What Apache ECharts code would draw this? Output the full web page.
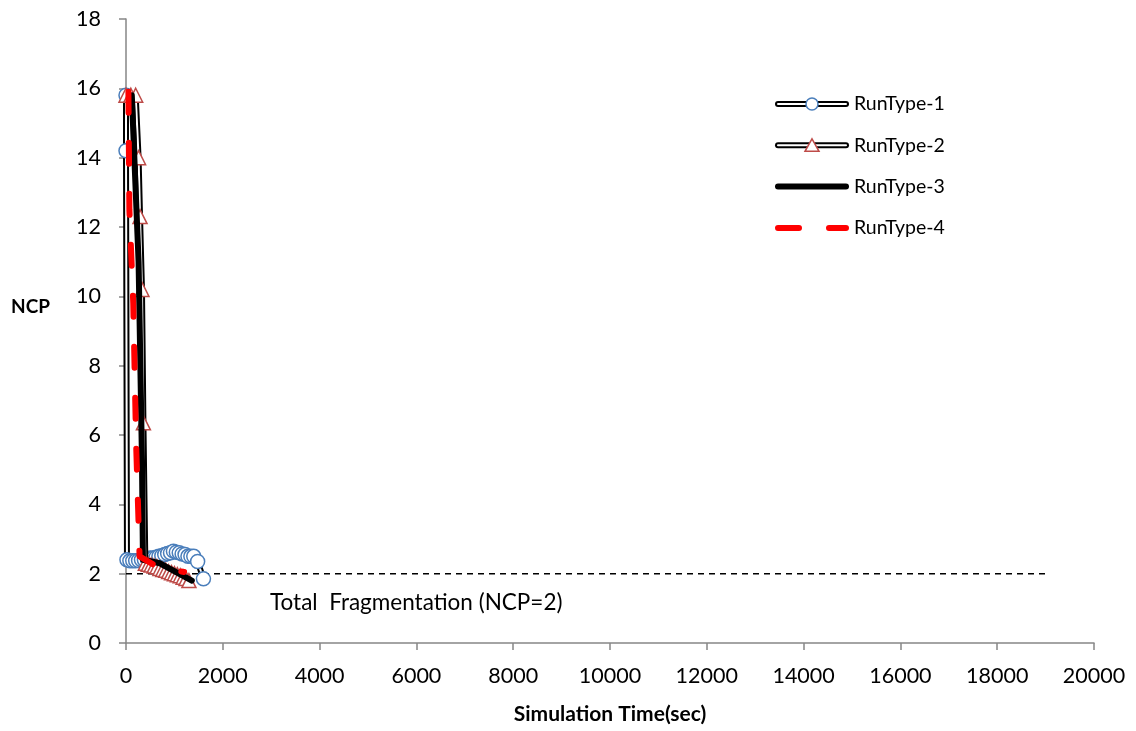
<!DOCTYPE html>
<html>
<head>
<meta charset="utf-8">
<style>
  html, body { margin: 0; padding: 0; background: #fff; }
  #chart { width: 1136px; height: 731px; }
</style>
<script src="https://cdn.jsdelivr.net/npm/echarts@6/dist/echarts.min.js"></script>
</head>
<body>
<div id="chart"></div>
<script>
// NCP over simulation time, four run types, [time (sec), NCP]
const runType1 = [[0,15.8],[0,14.2],[20,2.4],[80,2.37],[140,2.37],[200,2.37],[260,2.38],[320,2.4],[380,2.4],[440,2.42],[500,2.45],[560,2.45],[620,2.47],[680,2.5],[740,2.52],[800,2.55],[860,2.58],[920,2.6],[980,2.65],[1040,2.62],[1100,2.6],[1160,2.57],[1220,2.55],[1280,2.5],[1340,2.5],[1400,2.5],[1480,2.35],[1600,1.85]];
const runType2 = [[0,15.8],[100,15.8],[200,15.8],[260,14.0],[290,12.3],[330,10.2],[360,6.35],[400,2.3],[460,2.27],[520,2.25],[580,2.22],[640,2.2],[700,2.15],[760,2.12],[820,2.1],[880,2.06],[940,2.03],[1000,2.0],[1060,1.97],[1120,1.94],[1180,1.9],[1240,1.86],[1300,1.8]];
const runType3 = [[120,15.8],[260,11],[330,5.3],[350,2.4],[700,2.3],[1360,1.8]];
const runType4 = [[50,15.9],[70,12.5],[150,9.8],[210,5.7],[270,3.0],[280,2.5],[700,2.15],[1200,2.05]];
// Total fragmentation reference level
const fragmentation = [[0,2],[19000,2]];

const seriesNames = ['RunType-1','RunType-2','RunType-3','RunType-4'];
const xTicks = { min: 0, max: 20000, interval: 2000 };
const yTicks = { min: 0, max: 18, interval: 2 };

const FONT = 'Lato, "Open Sans", sans-serif';
const AXIS_GRAY = '#868686';
const CIRCLE_BLUE = '#4A7EBB';
const TRI_RED = '#BE4B48';

const chart = echarts.init(document.getElementById('chart'));

// Double (outlined) line: black wide stroke under a white thin stroke
function doubleLine(name, data, symbol, symbolSize, borderColor, z) {
  return [
    {
      name: name, type: 'line', data: data, z: z,
      showSymbol: false, symbol: 'none', silent: true,
      lineStyle: { color: '#000', width: 6, cap: 'round', join: 'round' },
      animation: false
    },
    {
      name: name + '-inner', type: 'line', data: data, z: z,
      symbol: symbol, symbolSize: symbolSize, showAllSymbol: true,
      itemStyle: { color: '#fff', borderColor: borderColor, borderWidth: 1.5 },
      lineStyle: { color: '#fff', width: 2, cap: 'round', join: 'round' },
      silent: true, animation: false
    }
  ];
}

// Hand-built legend (double lines need two strokes)
const legendTop = 104, legendGap = 41.3, lx0 = 778, lx1 = 846, ltx = 854;
const legendGraphics = [];
seriesNames.forEach((name, i) => {
  const y = legendTop + i * legendGap;
  if (i < 2) {
    legendGraphics.push({ type: 'line', shape: { x1: lx0, y1: y, x2: lx1, y2: y }, style: { stroke: '#000', lineWidth: 6, lineCap: 'round' } });
    legendGraphics.push({ type: 'line', shape: { x1: lx0, y1: y, x2: lx1, y2: y }, style: { stroke: '#fff', lineWidth: 2, lineCap: 'round' } });
    const cx = (lx0 + lx1) / 2;
    if (i === 0) {
      legendGraphics.push({ type: 'circle', shape: { cx: cx, cy: y, r: 6 }, style: { fill: '#fff', stroke: CIRCLE_BLUE, lineWidth: 1.5 } });
    } else {
      legendGraphics.push({ type: 'polygon', shape: { points: [[cx, y - 6.5], [cx + 7, y + 6], [cx - 7, y + 6]] }, style: { fill: '#fff', stroke: TRI_RED, lineWidth: 1.5 } });
    }
  } else if (i === 2) {
    legendGraphics.push({ type: 'line', shape: { x1: lx0, y1: y, x2: lx1, y2: y }, style: { stroke: '#000', lineWidth: 6, lineCap: 'round' } });
  } else {
    legendGraphics.push({ type: 'line', shape: { x1: lx0, y1: y, x2: lx1, y2: y }, style: { stroke: '#FF0000', lineWidth: 6, lineCap: 'round', lineDash: [21, 30] } });
  }
  legendGraphics.push({ type: 'text', x: ltx, y: y, style: { text: name, font: '19.5px ' + FONT, fill: '#000', verticalAlign: 'middle' } });
});

const option = {
  backgroundColor: '#fff',
  animation: false,
  grid: { left: 126, right: 42, top: 19, bottom: 88, outerBoundsMode: 'none', containLabel: false },
  xAxis: {
    type: 'value', min: xTicks.min, max: xTicks.max, interval: xTicks.interval,
    name: 'Simulation Time(sec)', nameLocation: 'middle', nameGap: 61,
    nameTextStyle: { fontFamily: FONT, fontSize: 21, fontWeight: 'bold', color: '#000' },
    axisLine: { lineStyle: { color: AXIS_GRAY, width: 1.5 } },
    axisTick: { show: true, length: 7, lineStyle: { color: AXIS_GRAY, width: 1.5 } },
    axisLabel: { margin: 22, fontFamily: FONT, fontSize: 21.5, color: '#000', formatter: v => String(v) },
    splitLine: { show: false }
  },
  yAxis: {
    type: 'value', min: yTicks.min, max: yTicks.max, interval: yTicks.interval,
    axisLine: { show: true, lineStyle: { color: AXIS_GRAY, width: 1.5 } },
    axisTick: { show: true, length: 7, lineStyle: { color: AXIS_GRAY, width: 1.5 } },
    axisLabel: { margin: 25, fontFamily: FONT, fontSize: 21.5, color: '#000' },
    splitLine: { show: false }
  },
  graphic: legendGraphics.concat([
    { type: 'text', x: 11, y: 307, style: { text: 'NCP', font: 'bold 19px ' + FONT, fill: '#000', verticalAlign: 'middle' } },
    { type: 'text', x: 270, y: 603, style: { text: 'Total  Fragmentation (NCP=2)', font: '22.5px ' + FONT, fill: '#000', verticalAlign: 'middle' } }
  ]),
  series: [
    {
      name: 'Total Fragmentation', type: 'line', data: fragmentation, z: 1,
      symbol: 'none', silent: true,
      lineStyle: { color: '#000', width: 1.5, type: [6, 5] }
    }
  ]
  .concat(doubleLine(seriesNames[0], runType1, 'circle', 14, CIRCLE_BLUE, 2))
  .concat(doubleLine(seriesNames[1], runType2, 'triangle', 14, TRI_RED, 3))
  .concat([
    {
      name: seriesNames[2], type: 'line', data: runType3, z: 4,
      symbol: 'none', silent: true,
      lineStyle: { color: '#000', width: 6, cap: 'round', join: 'round' }
    },
    {
      name: seriesNames[3], type: 'line', data: runType4, z: 5,
      symbol: 'none', silent: true,
      lineStyle: { color: '#FF0000', width: 6, cap: 'round', join: 'round', type: [21, 30] }
    }
  ])
};

chart.setOption(option);
</script>
</body>
</html>
